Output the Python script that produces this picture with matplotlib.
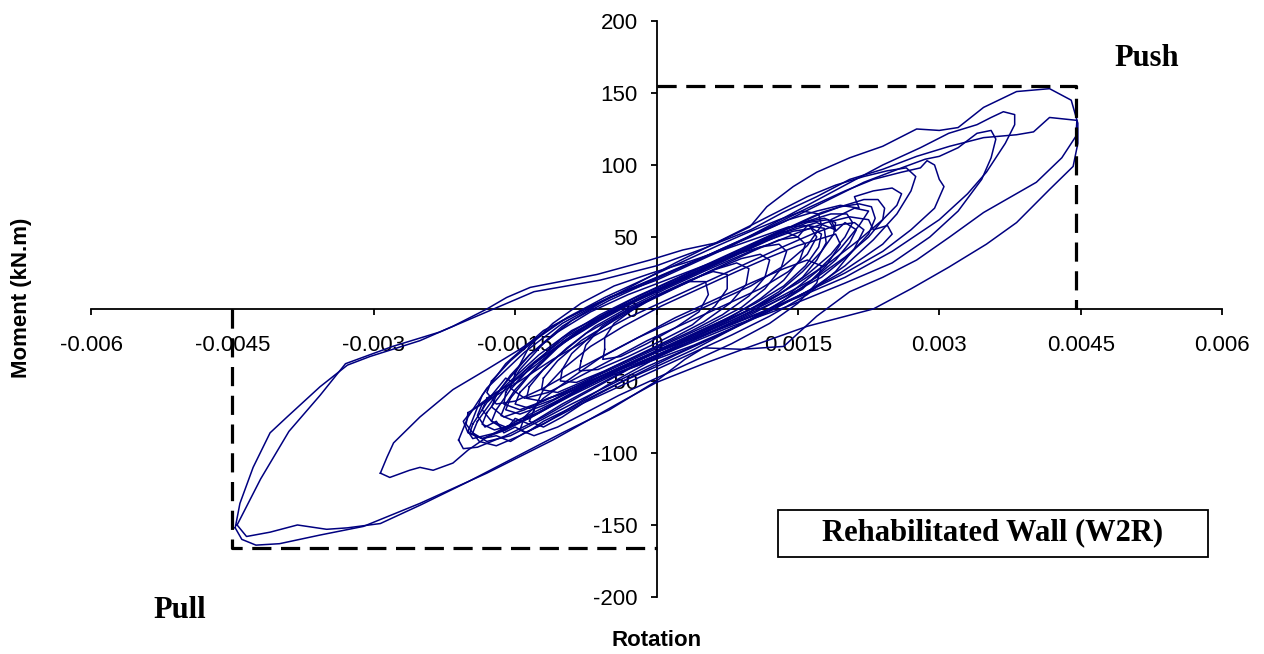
import numpy as np
import matplotlib
matplotlib.use("Agg")
import matplotlib.pyplot as plt
from matplotlib.patches import Rectangle

# rotation in milliradians, moment in kN.m, one list pair per cycle
rot1 = [-4.47, -4.40, -4.25, -4.0, -3.57, -3.11, -2.51, -1.8, -1.1, -0.39, 0.0, 0.5, 1.0, 1.6, 2.3, 2.7, 3.1, 3.5,
        3.82, 4.17, 4.42, 4.47, 4.47, 4.40, 4.17, 3.82, 3.47, 3.2, 3.0, 2.76, 2.4, 2.05, 1.7, 1.45, 1.17, 0.99, 0.64,
        0.28, -0.07, -0.63, -1.34, -1.59, -1.8, -2.16, -2.51, -3.04, -3.28, -3.57, -3.92, -4.1, -4.28, -4.42, -4.47]
mom1 = [-152, -160, -164, -163, -157, -151, -135, -114, -91, -65, -51, -38, -26, -12, 0, 14, 29, 45,
        60, 83, 99, 115, 129, 145, 153, 151, 140, 126, 124, 125, 113, 105, 95, 85, 71, 57, 46,
        41, 34, 24, 15, 8, 0, -12, -22, -33, -39, -54, -75, -86, -110, -135, -152]

rot2 = [-4.45, -4.35, -4.1, -3.81, -3.5, -3.28, -2.93, -2.5, -2.0, -1.5, -1.0, -0.5, 0.0, 0.3, 0.5, 0.9, 1.35, 1.7,
        2.05, 2.4, 2.76, 3.11, 3.47, 4.03, 4.3, 4.45, 4.46, 4.17, 4.0, 3.82, 3.47, 3.11, 2.76, 2.4, 2.05, 1.7, 1.34,
        1.0, 0.5, 0.0, -0.6, -1.3, -1.8, -2.3, -2.8, -3.3, -3.57, -3.9, -4.2, -4.45]
mom2 = [-150, -158, -155, -150, -153, -152, -149, -136, -120, -103, -86, -70, -50, -35, -27, -28, -26, -5,
        12, 22, 34, 50, 67, 88, 105, 120, 131, 133, 123, 121, 119, 113, 106, 97, 90, 78, 67,
        55, 42, 30, 20, 12, -2, -16, -26, -38, -60, -85, -118, -150]

rot3 = [-2.93, -2.83, -2.62, -2.51, -2.37, -2.16, -2.0, -1.8, -1.4, -1.0, -0.5, 0.0, 0.5, 1.0, 1.5, 2.0, 2.5, 3.0,
        3.3, 3.5, 3.7, 3.8, 3.8, 3.68, 3.55, 3.4, 3.1, 2.8, 2.4, 2.0, 1.6, 1.2, 0.8, 0.4, 0.0, -0.5, -1.0, -1.45,
        -1.8, -2.16, -2.51, -2.79, -2.86, -2.93]
mom3 = [-114, -117, -112, -110, -112, -107, -98, -89, -75, -62, -45, -30, -18, -5, 8, 22, 40, 62,
        80, 95, 115, 128, 135, 137, 133, 128, 122, 112, 100, 86, 72, 58, 44, 32, 20, 8, -8, -28,
        -42, -56, -75, -93, -103, -114]

rot4 = [-2.1, -2.05, -1.9, -1.6, -1.2, -0.8, -0.3, 0.2, 0.8, 1.4, 2.0, 2.5, 2.9, 3.2, 3.45, 3.55, 3.6, 3.55, 3.4,
        3.2, 3.0, 2.85, 2.6, 2.2, 1.8, 1.4, 1.0, 0.5, 0.0, -0.5, -1.0, -1.4, -1.8, -2.0, -2.1]
mom4 = [-91, -97, -96, -88, -75, -60, -42, -28, -12, 2, 18, 32, 50, 68, 90, 105, 118, 124, 122,
        112, 106, 104, 98, 88, 75, 62, 50, 36, 22, 8, -10, -30, -55, -75, -91]

rot5 = [-2.0, -1.95, -1.7, -1.3, -0.9, -0.4, 0.1, 0.6, 1.1, 1.6, 2.0, 2.4, 2.7, 2.95, 3.05, 3.0, 2.95, 2.87, 2.8,
        2.6, 2.3, 2.0, 1.6, 1.2, 0.8, 0.3, -0.2, -0.7, -1.2, -1.6, -1.85, -2.0]
mom5 = [-85, -90, -86, -74, -60, -44, -30, -16, -3, 12, 25, 40, 55, 70, 85, 90, 100, 103, 98,
        95, 90, 82, 70, 57, 45, 30, 16, 2, -15, -38, -60, -85]

rot6 = [-1.95, -1.98, -1.85, -1.6, -1.3, -1.0, -0.6, -0.2, 0.3, 0.8, 1.3, 1.7, 2.0, 2.25, 2.4, 2.42, 2.35, 2.2,
        2.0, 1.75, 1.45, 1.1, 0.7, 0.3, -0.1, -0.5, -0.9, -1.25, -1.55, -1.8, -1.95]
mom6 = [-80, -86, -90, -84, -74, -62, -47, -35, -22, -8, 8, 22, 36, 50, 62, 70, 76, 76,
        72, 67, 58, 47, 34, 22, 10, -2, -15, -32, -50, -65, -80]

rot7 = [-1.8, -1.85, -1.72, -1.5, -1.2, -0.85, -0.45, 0.0, 0.45, 0.9, 1.35, 1.75, 2.05, 2.25, 2.32, 2.28, 2.15,
        1.95, 1.7, 1.4, 1.05, 0.65, 0.25, -0.15, -0.55, -0.95, -1.3, -1.6, -1.8]
mom7 = [-72, -80, -84, -80, -70, -57, -44, -32, -20, -6, 8, 22, 38, 52, 63, 71, 73,
        71, 65, 56, 45, 33, 21, 9, -4, -19, -37, -55, -72]

rot8 = [-1.7, -1.75, -1.6, -1.35, -1.05, -0.7, -0.3, 0.1, 0.5, 0.9, 1.3, 1.6, 1.85, 2.0, 2.08, 2.02, 1.85, 1.6,
        1.3, 1.0, 0.6, 0.2, -0.2, -0.6, -1.0, -1.3, -1.55, -1.7]
mom8 = [-70, -78, -82, -76, -65, -52, -39, -27, -15, -3, 10, 24, 38, 50, 60, 66, 66, 61,
        54, 45, 33, 21, 9, -4, -20, -38, -56, -70]

rot9 = [-1.6, -1.65, -1.5, -1.25, -0.95, -0.6, -0.2, 0.2, 0.6, 1.0, 1.3, 1.55, 1.75, 1.88, 1.9, 1.78, 1.55,
        1.25, 0.95, 0.55, 0.15, -0.25, -0.65, -1.0, -1.3, -1.5, -1.6]
mom9 = [-66, -74, -78, -72, -61, -49, -36, -24, -12, 0, 12, 26, 40, 52, 60, 63, 60,
        52, 43, 31, 19, 7, -7, -23, -42, -56, -66]

rot10 = [-1.55, -1.6, -1.45, -1.2, -0.9, -0.5, -0.1, 0.3, 0.7, 1.05, 1.35, 1.58, 1.72, 1.75, 1.65, 1.45, 1.15,
         0.85, 0.45, 0.05, -0.35, -0.75, -1.05, -1.35, -1.55]
mom10 = [-62, -70, -73, -67, -57, -44, -32, -20, -8, 4, 16, 30, 43, 52, 56, 54, 47,
         38, 26, 14, 2, -12, -27, -46, -62]

rot11 = [-1.45, -1.5, -1.35, -1.1, -0.8, -0.4, 0.0, 0.4, 0.8, 1.1, 1.35, 1.52, 1.58, 1.5, 1.3, 1.05, 0.75, 0.4,
         0.0, -0.4, -0.75, -1.05, -1.3, -1.45]
mom11 = [-58, -66, -69, -63, -53, -41, -29, -17, -5, 7, 20, 34, 45, 50, 48, 41, 32, 21,
         9, -4, -17, -33, -48, -58]

rot12 = [-1.35, -1.38, -1.22, -0.95, -0.65, -0.25, 0.15, 0.55, 0.9, 1.15, 1.32, 1.38, 1.3, 1.1, 0.85, 0.5, 0.1,
         -0.3, -0.65, -0.95, -1.2, -1.35]
mom12 = [-54, -62, -64, -57, -47, -35, -23, -11, 1, 14, 28, 40, 45, 43, 36, 26, 14,
         1, -12, -27, -42, -54]

rot13 = [-1.2, -1.22, -1.05, -0.8, -0.45, -0.05, 0.35, 0.7, 0.98, 1.15, 1.2, 1.1, 0.9, 0.6, 0.25, -0.1, -0.45,
         -0.8, -1.05, -1.2]
mom13 = [-48, -56, -58, -51, -40, -28, -16, -4, 9, 22, 34, 38, 35, 27, 16, 5, -8,
         -22, -36, -48]

rot14 = [-1.0, -1.02, -0.85, -0.55, -0.2, 0.15, 0.5, 0.78, 0.95, 0.98, 0.85, 0.6, 0.3, -0.05, -0.4, -0.7, -0.9, -1.0]
mom14 = [-42, -50, -51, -43, -32, -21, -9, 4, 17, 28, 32, 27, 18, 7, -5, -19, -31, -42]

rot15 = [-0.8, -0.82, -0.62, -0.3, 0.05, 0.38, 0.62, 0.75, 0.75, 0.6, 0.35, 0.05, -0.3, -0.58, -0.75, -0.8]
mom15 = [-36, -43, -42, -33, -22, -11, 2, 14, 24, 26, 20, 11, 0, -12, -25, -36]

rot16 = [-0.55, -0.57, -0.38, -0.1, 0.2, 0.45, 0.55, 0.52, 0.35, 0.1, -0.2, -0.45, -0.55, -0.55]
mom16 = [-28, -35, -33, -24, -13, -2, 10, 19, 19, 12, 2, -10, -20, -28]

rot17 = [-1.95, -2.05, -2.0, -1.85, -1.7, -1.55, -1.4, -1.2, -0.9, -0.5, 0.0, 0.5, 1.0, 1.4, 1.7, 1.95, 2.15,
         2.25, 2.1, 1.85, 1.9, 1.7, 1.4, 1.0, 0.6, 0.2, -0.2, -0.6, -1.0, -1.3, -1.5, -1.6, -1.75, -1.95]
mom17 = [-70, -78, -86, -90, -88, -92, -86, -80, -68, -52, -34, -18, -4, 10, 26, 42, 58,
         68, 70, 62, 55, 60, 54, 42, 30, 18, 6, -8, -24, -38, -52, -48, -60, -70]

rot18 = [-1.8, -1.85, -1.75, -1.6, -1.5, -1.35, -1.2, -1.0, -0.6, -0.2, 0.2, 0.6, 1.0, 1.3, 1.55, 1.7, 1.8,
         1.78, 1.6, 1.5, 1.35, 1.1, 0.8, 0.4, 0.0, -0.4, -0.8, -1.1, -1.35, -1.55, -1.8]
mom18 = [-62, -70, -78, -84, -76, -80, -74, -66, -52, -38, -26, -14, -2, 10, 22, 34, 46,
         56, 58, 50, 54, 46, 36, 24, 12, 0, -14, -28, -40, -52, -62]

rot19 = [-1.7, -1.75, -1.62, -1.4, -1.15, -0.8, -0.45, -0.05, 0.4, 0.85, 1.3, 1.65, 1.95, 2.2, 2.4, 2.5, 2.45,
         2.3, 2.25, 2.05, 1.8, 1.5, 1.2, 0.85, 0.5, 0.1, -0.3, -0.7, -1.05, -1.35, -1.55, -1.7]
mom19 = [-60, -68, -75, -70, -62, -55, -45, -36, -25, -12, 2, 14, 25, 36, 45, 52, 58,
         55, 62, 64, 60, 53, 45, 38, 30, 20, 10, -2, -16, -32, -46, -60]

rot20 = [-1.5, -1.55, -1.4, -1.15, -0.85, -0.5, -0.1, 0.3, 0.7, 1.1, 1.4, 1.6, 1.7, 1.62, 1.4, 1.1, 0.75, 0.35,
         -0.05, -0.45, -0.8, -1.1, -1.35, -1.5]
mom20 = [-45, -55, -62, -58, -48, -36, -22, -10, 2, 14, 26, 38, 50, 58, 57, 50, 42, 33,
         25, 16, 4, -10, -26, -45]

rot21 = [-2.0, -2.02, -1.88, -1.7, -1.45, -1.15, -0.8, -0.4, 0.0, 0.4, 0.8, 1.2, 1.6, 1.9, 2.1, 2.2, 2.1, 1.9,
         1.65, 1.3, 0.9, 0.5, 0.1, -0.3, -0.7, -1.1, -1.45, -1.75, -2.0]
mom21 = [-72, -80, -92, -95, -88, -78, -66, -54, -42, -30, -18, -5, 10, 26, 42, 55, 60, 58,
         52, 42, 30, 18, 6, -6, -20, -35, -50, -62, -72]

rot22 = [-1.85, -1.9, -1.82, -1.7, -1.62, -1.5, -1.38, -1.2, -0.95, -0.6, -0.2, 0.2, 0.6, 1.0, 1.35, 1.65, 1.9,
         2.05, 2.12, 2.0, 1.9, 1.82, 1.6, 1.3, 0.95, 0.55, 0.15, -0.25, -0.65, -1.0, -1.3, -1.55, -1.7, -1.85]
mom22 = [-66, -74, -82, -78, -86, -82, -86, -78, -70, -58, -45, -32, -20, -7, 6, 20, 34,
         46, 55, 60, 54, 62, 60, 52, 42, 30, 18, 5, -9, -24, -40, -52, -58, -66]

rot23 = [-1.6, -1.62, -1.45, -1.2, -0.9, -0.5, -0.1, 0.3, 0.7, 1.1, 1.5, 1.85, 2.15, 2.4, 2.55, 2.6, 2.5, 2.3,
         2.1, 2.15, 1.95, 1.7, 1.4, 1.05, 0.7, 0.3, -0.1, -0.5, -0.9, -1.2, -1.45, -1.6]
mom23 = [-58, -66, -70, -64, -55, -44, -33, -22, -10, 3, 18, 33, 48, 62, 72, 80, 84, 82,
         78, 70, 72, 68, 62, 52, 42, 30, 18, 6, -8, -24, -42, -58]

rot24 = [-1.9, -1.95, -1.8, -1.55, -1.25, -0.9, -0.5, -0.1, 0.35, 0.8, 1.25, 1.65, 2.0, 2.3, 2.55, 2.7, 2.75,
         2.65, 2.45, 2.2, 1.9, 1.6, 1.3, 1.0, 0.6, 0.2, -0.2, -0.6, -1.0, -1.35, -1.65, -1.9]
mom24 = [-78, -86, -92, -88, -78, -66, -53, -40, -27, -14, 0, 14, 30, 48, 66, 82, 92,
         98, 96, 92, 86, 78, 68, 58, 45, 32, 18, 4, -12, -32, -55, -78]

rot25 = [-1.3, -1.35, -1.2, -1.0, -0.7, -0.35, 0.0, 0.4, 0.8, 1.2, 1.55, 1.8, 1.95, 1.9, 1.7, 1.5, 1.2, 0.85,
         0.45, 0.05, -0.35, -0.7, -1.0, -1.2, -1.3]
mom25 = [-70, -78, -82, -75, -62, -50, -40, -28, -14, 0, 14, 30, 45, 52, 48, 44, 36, 26,
         14, 2, -12, -26, -42, -56, -70]

rot26 = [-1.75, -1.8, -1.7, -1.5, -1.2, -0.9, -0.55, -0.2, 0.2, 0.6, 1.0, 1.35, 1.6, 1.75, 1.72, 1.55, 1.3, 1.0,
         0.65, 0.25, -0.15, -0.55, -0.95, -1.3, -1.55, -1.75]
mom26 = [-50, -58, -66, -64, -55, -44, -32, -20, -8, 4, 16, 30, 44, 58, 66, 68, 62, 54,
         44, 32, 20, 8, -6, -22, -36, -50]

rot27 = [-1.4, -1.45, -1.3, -1.05, -0.75, -0.4, 0.0, 0.4, 0.8, 1.2, 1.5, 1.7, 1.75, 1.6, 1.35, 1.0, 0.6, 0.2,
         -0.2, -0.6, -0.95, -1.2, -1.4]
mom27 = [-75, -84, -88, -82, -72, -60, -48, -36, -24, -10, 4, 18, 30, 34, 28, 18, 6, -6,
         -20, -34, -50, -62, -75]

cycles = [(rot1, mom1), (rot2, mom2), (rot3, mom3), (rot4, mom4), (rot5, mom5), (rot6, mom6),
          (rot7, mom7), (rot8, mom8), (rot9, mom9), (rot10, mom10), (rot11, mom11), (rot12, mom12),
          (rot13, mom13), (rot14, mom14), (rot15, mom15), (rot16, mom16), (rot17, mom17), (rot18, mom18),
          (rot19, mom19), (rot20, mom20), (rot21, mom21), (rot22, mom22), (rot23, mom23), (rot24, mom24),
          (rot25, mom25), (rot26, mom26), (rot27, mom27)]

# peak envelope (dashed)
push_rot, push_mom = 0.00445, 155
pull_rot, pull_mom = -0.0045, -166

xticks = [-0.006, -0.0045, -0.003, -0.0015, 0, 0.0015, 0.003, 0.0045, 0.006]
xlabels = ["-0.006", "-0.0045", "-0.003", "-0.0015", "0", "0.0015", "0.003", "0.0045", "0.006"]
yticks = [-200, -150, -100, -50, 0, 50, 100, 150, 200]

plt.rcParams['font.family'] = ['Liberation Sans', 'DejaVu Sans']
plt.rcParams['axes.unicode_minus'] = False

fig = plt.figure(figsize=(12.64, 6.54), dpi=100)
ax = fig.add_axes([0.072, 0.0872, 0.8948, 0.8807])

for r, m in cycles:
    ax.plot(np.array(r) * 1e-3, m, color='#000080', lw=1.1, zorder=3)

ax.plot([0, push_rot, push_rot], [push_mom, push_mom, 0], color='black', lw=2.3,
        ls=(0, (6, 3)), zorder=4)
ax.plot([pull_rot, pull_rot, 0], [0, pull_mom, pull_mom], color='black', lw=2.3,
        ls=(0, (6, 3)), zorder=4)

ax.set_xlim(-0.006, 0.006)
ax.set_ylim(-200, 200)
ax.spines['left'].set_position(('data', 0))
ax.spines['bottom'].set_position(('data', 0))
ax.spines['top'].set_visible(False)
ax.spines['right'].set_visible(False)
for s in ('left', 'bottom'):
    ax.spines[s].set_linewidth(1.3)
    ax.spines[s].set_zorder(2)

ax.set_xticks(xticks)
ax.set_xticklabels(xlabels)
ax.set_yticks(yticks)
ax.tick_params(axis='x', direction='out', length=4.5, width=1.3, pad=14, labelsize=16)
ax.tick_params(axis='y', direction='out', length=4.5, width=1.3, pad=9, labelsize=16)

fig.text(0.5198, 0.021, "Rotation", ha='center', va='center', fontsize=16, fontweight='bold')
fig.text(0.017, 0.544, "Moment (kN.m)", ha='center', va='center', rotation=90,
         fontsize=16, fontweight='bold')

serif = ['Liberation Serif', 'DejaVu Serif']
fig.text(0.907, 0.911, "Push", ha='center', va='center', fontsize=22, fontweight='bold', family=serif)
fig.text(0.142, 0.067, "Pull", ha='center', va='center', fontsize=22, fontweight='bold', family=serif)

box = Rectangle((778 / 1264, 1 - 557 / 654), 430 / 1264, 47 / 654, transform=fig.transFigure,
                facecolor='white', edgecolor='black', lw=1.3, zorder=5)
fig.patches.append(box)
fig.text(993 / 1264, 1 - 533 / 654, "Rehabilitated Wall (W2R)", ha='center', va='center',
         fontsize=22, fontweight='bold', family=serif, zorder=6)

fig.savefig("out.png", dpi=100)
